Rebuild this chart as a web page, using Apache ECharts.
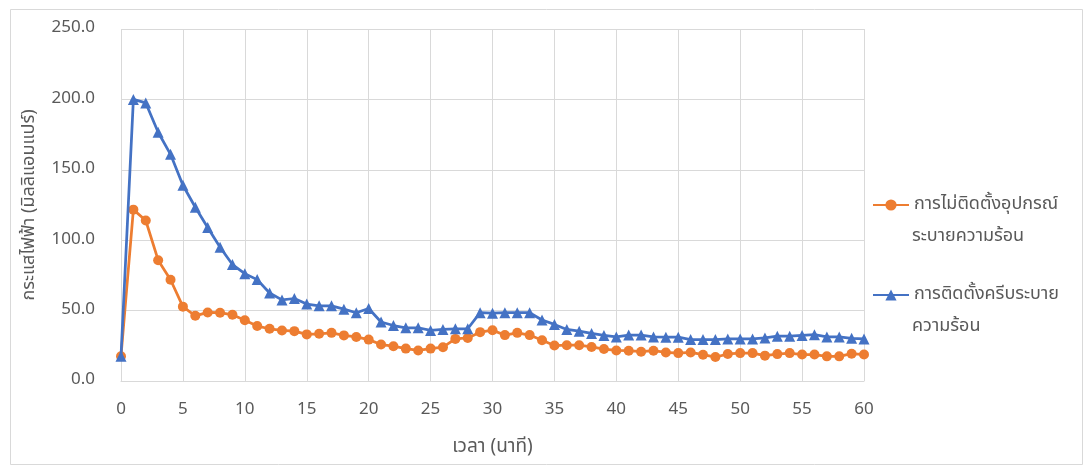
<!DOCTYPE html>
<html>
<head>
<meta charset="utf-8">
<script src="https://cdn.jsdelivr.net/npm/echarts@6/dist/echarts.min.js"></script>
<style>
html,body{margin:0;padding:0;background:#fff;}
#chart{width:1086px;height:468px;}
</style>
</head>
<body>
<div id="chart"></div>
<script>
const minutes = [];
for (let i = 0; i <= 60; i++) minutes.push(i);

const noCooling = [17.6,121.7,114,85.8,71.9,52.8,46.3,48.7,48.5,47,43.2,39,37.1,35.9,35.4,33.1,33.5,34.2,32.4,31.3,29.4,25.9,24.7,23,21.7,23,24,29.9,30.6,34.7,36.1,32.6,34.2,32.6,28.9,25.2,25.4,25.4,24.2,22.7,21.7,21.5,20.8,21.5,20.3,19.8,20.3,18.7,17,19.2,19.8,19.8,18,19.1,19.8,18.8,18.8,17.5,17.5,19.4,18.8];
const withFins = [17.6,200,197.5,176.7,161,139,123.4,109,95,82.7,76.2,72,62.5,57.6,58.6,54.6,53.4,53.4,51,48.5,51.5,41.9,39.4,37.8,37.8,35.9,36.6,37.1,37.1,48.5,48.2,48.5,48.5,48.5,43.3,40.2,36.6,35.4,33.8,32.4,31.3,32.6,32.6,31.3,31.1,31.1,29.4,29.4,29.4,29.9,29.9,29.9,30.6,31.8,31.8,32.4,32.9,31.3,31.3,30.3,29.9];

const seriesNames = ['การไม่ติดตั้งอุปกรณ์', 'การติดตั้งครีบระบาย'];
const seriesNameTails = ['ระบายความร้อน', 'ความร้อน'];
const xTitle = 'เวลา (นาที)';
const yTitle = 'กระแสไฟฟ้า (มิลลิแอมแปร์)';

const FONT = '"Noto Sans Thai", "Noto Sans", Tahoma, sans-serif';
const chart = echarts.init(document.getElementById('chart'), null, {renderer: 'canvas'});
const pair = (arr) => arr.map((v, i) => [minutes[i], v]);

chart.setOption({
  backgroundColor: '#fff',
  animation: false,
  textStyle: {fontFamily: FONT},
  grid: {left: 121, right: 222, top: 29, bottom: 87, containLabel: false},
  xAxis: {
    type: 'value', min: 0, max: 60, interval: 5,
    name: xTitle, nameLocation: 'middle', nameGap: 58,
    nameTextStyle: {color: '#595959', fontSize: 19, fontFamily: FONT},
    axisLine: {show: true, lineStyle: {color: '#d9d9d9', width: 1}},
    axisTick: {show: false},
    axisLabel: {color: '#595959', fontSize: 17, margin: 21, fontFamily: FONT},
    splitLine: {show: true, lineStyle: {color: '#d9d9d9', width: 1}}
  },
  yAxis: {
    type: 'value', min: 0, max: 250, interval: 50,
    name: yTitle, nameLocation: 'middle', nameGap: 82, nameRotate: 90,
    nameTextStyle: {color: '#595959', fontSize: 18, fontFamily: FONT},
    axisLine: {show: false},
    axisTick: {show: false},
    axisLabel: {color: '#595959', fontSize: 17, margin: 26, fontFamily: FONT,
      formatter: v => v.toFixed(1)},
    splitLine: {show: true, lineStyle: {color: '#d9d9d9', width: 1}}
  },
  legend: {
    orient: 'vertical', left: 872, top: 196, padding: 0,
    itemWidth: 36, itemHeight: 14, itemGap: 72,
    textStyle: {color: '#595959', fontSize: 18, fontFamily: FONT},
    data: seriesNames
  },
  graphic: [
    {type: 'rect', left: 8, top: 7, silent: true, z: -10,
      shape: {width: 1072, height: 455},
      style: {fill: 'none', stroke: '#d9d9d9', lineWidth: 1}},
    {type: 'text', left: 912, top: 228,
      style: {text: seriesNameTails[0], fill: '#595959', font: '18px ' + FONT}},
    {type: 'text', left: 912, top: 318,
      style: {text: seriesNameTails[1], fill: '#595959', font: '18px ' + FONT}}
  ],
  series: [
    {
      name: seriesNames[0], type: 'line', data: pair(noCooling),
      symbol: 'circle', symbolSize: 10,
      lineStyle: {color: '#ED7D31', width: 2.75},
      itemStyle: {color: '#ED7D31'}, z: 2
    },
    {
      name: seriesNames[1], type: 'line', data: pair(withFins),
      symbol: 'triangle', symbolSize: 11,
      lineStyle: {color: '#4472C4', width: 2.75},
      itemStyle: {color: '#4472C4'}, z: 3
    }
  ]
});
</script>
</body>
</html>
